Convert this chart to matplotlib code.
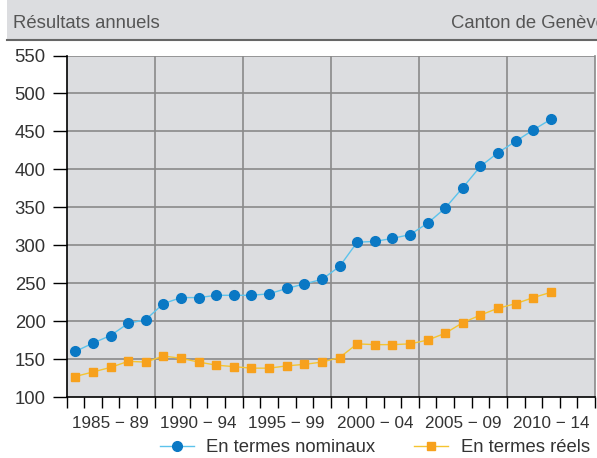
import numpy as np
import matplotlib.pyplot as plt
from matplotlib.patches import Rectangle
from matplotlib.lines import Line2D

plt.rcParams['font.family'] = ['Liberation Sans', 'DejaVu Sans']

years = np.arange(1985, 2013)
nominal = [160, 171, 181, 197, 202, 223, 231, 231, 234, 234,
           234, 236, 243, 249, 255, 272, 304, 305, 309, 314,
           329, 349, 376, 404, 422, 437, 452, 466]
real = [127, 133, 139, 147, 146, 154, 151, 146, 142, 140,
        138, 138, 141, 143, 146, 152, 170, 169, 169, 170,
        175, 184, 198, 208, 217, 223, 231, 238]
group_labels = ['1985 \u2212 89', '1990 \u2212 94', '1995 \u2212 99',
                '2000 \u2212 04', '2005 \u2212 09', '2010 \u2212 14']
group_starts = [1985, 1990, 1995, 2000, 2005, 2010]

bg = '#dcdde0'
grid_c = '#8a8a8a'
txt = '#333333'

fig = plt.figure(figsize=(5.97, 4.58), dpi=100)
W, H = 597, 458

# header band (the right-hand title runs off the edge, as in the original)
fig.patches.append(Rectangle((7 / W, 1 - 39 / H), 1, 39 / H, transform=fig.transFigure,
                             facecolor=bg, edgecolor='none', zorder=0))
fig.add_artist(Line2D([7 / W, 1], [1 - 39.5 / H] * 2, transform=fig.transFigure,
                      color='#666666', lw=1.5))
fig.text(13 / W, 1 - 23 / H, 'Résultats annuels', fontsize=13.3, color='#555555', va='center')
fig.text(451 / W, 1 - 23 / H, 'Canton de Genève', fontsize=13.3, color='#555555', va='center')

ax = fig.add_axes([66.5 / W, 61 / H, (595 - 66.5) / W, (397 - 55.5) / H])
ax.set_facecolor(bg)

ax.plot(years, nominal, color='#5cc3ec', lw=1, marker='o', ms=7,
        mfc='#0a78c4', mec='#0a78c4', zorder=3, label='En termes nominaux')
ax.plot(years, real, color='#f5c430', lw=1, marker='s', ms=5.5,
        mfc='#f7a11d', mec='#f7a11d', zorder=3, label='En termes réels')

ax.set_xlim(1984.5, 2014.5)
ax.set_ylim(100, 550)
ax.set_yticks(np.arange(100, 551, 50))
ax.tick_params(axis='y', length=10, width=1, pad=5, labelsize=13.3, colors='black',
               labelcolor=txt)

bounds = np.arange(1984.5, 2015, 1)
ax.set_xticks(bounds)
ax.set_xticklabels([])
ax.tick_params(axis='x', length=8, width=1, colors='black')
for lab, s in zip(group_labels, group_starts):
    ax.text(s + 2, -0.055, lab, transform=ax.get_xaxis_transform(), ha='center', va='top',
            fontsize=12.3, color=txt)

for v in np.arange(150, 551, 50):
    ax.axhline(v, color=grid_c, lw=1.2, zorder=1)
for b in np.arange(1989.5, 2014, 5):
    ax.axvline(b, color=grid_c, lw=1.2, zorder=1)

ax.spines['top'].set_visible(False)
ax.spines['right'].set_color(grid_c)
ax.spines['right'].set_linewidth(1.2)
ax.spines['left'].set_linewidth(1.2)
ax.spines['bottom'].set_linewidth(1.2)

fig.legend(loc='center', bbox_to_anchor=(375 / W, 1 - 448 / H), ncol=2, frameon=False,
           fontsize=13.3, handlelength=1.8, handletextpad=0.7, columnspacing=2.1,
           labelcolor=txt)

fig.savefig('out.png', dpi=100)
